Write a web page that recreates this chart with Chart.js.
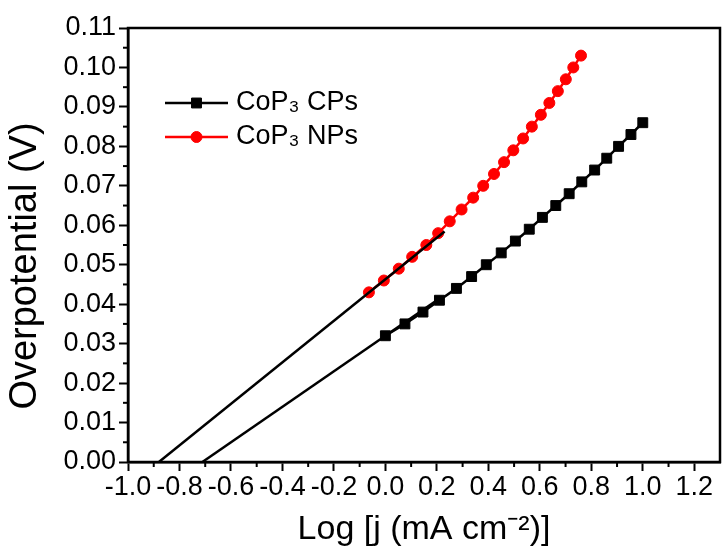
<!DOCTYPE html>
<html>
<head>
<meta charset="utf-8">
<script src="https://cdn.jsdelivr.net/npm/chart.js@4.4.1/dist/chart.umd.min.js"></script>
<style>
  html, body { margin: 0; padding: 0; background: #fff; }
</style>
</head>
<body>
<canvas id="chart" width="728" height="559"></canvas>
<script>
// CoP3 CPs (black squares)
var cpsX = [0.0, 0.076, 0.146, 0.21, 0.276, 0.335, 0.392, 0.45, 0.505, 0.559, 0.61, 0.662, 0.714, 0.763, 0.813, 0.86, 0.906, 0.954, 1.0];
var cpsY = [0.032, 0.035, 0.038, 0.041, 0.044, 0.047, 0.050, 0.053, 0.056, 0.059, 0.062, 0.065, 0.068, 0.071, 0.074, 0.077, 0.080, 0.083, 0.086];
// CoP3 NPs (red circles)
var npsX = [-0.064, -0.006, 0.052, 0.104, 0.159, 0.205, 0.25, 0.296, 0.341, 0.38, 0.422, 0.461, 0.497, 0.535, 0.569, 0.604, 0.637, 0.67, 0.701, 0.73, 0.76];
var npsY = [0.043, 0.046, 0.049, 0.052, 0.055, 0.058, 0.061, 0.064, 0.067, 0.070, 0.073, 0.076, 0.079, 0.082, 0.085, 0.088, 0.091, 0.094, 0.097, 0.100, 0.103];
// Tafel fit lines, extrapolated to zero overpotential
var cpsFitX = [-0.711, 0.2];
var cpsFitY = [0, 0.041];
var npsFitX = [-0.88, 0.23];
var npsFitY = [0, 0.0584];

var seriesNames = ['CoP\u2083 CPs', 'CoP\u2083 NPs'];
var xTitle = 'Log [j (mA cm\u207B\u00B2)]';
var yTitle = 'Overpotential (V)';
var xMin = -1.0, xMax = 1.3, xStep = 0.2;
var yMin = 0, yMax = 0.11, yStep = 0.01;

function pts(xs, ys) {
  return xs.map(function (x, i) { return { x: x, y: ys[i] }; });
}

var FONT = '"Liberation Sans", Arial, sans-serif';
Chart.defaults.font.family = FONT;
Chart.defaults.color = '#000';

// legend drawn inside the plot, top left
var insideLegend = {
  id: 'insideLegend',
  afterDatasetsDraw: function (chart) {
    var ctx = chart.ctx, a = chart.chartArea;
    ctx.save();
    [0, 1].forEach(function (di, k) {
      var ds = chart.data.datasets[di];
      var y = a.top + 75 + k * 34;
      var x0 = a.left + 37, x1 = a.left + 100;
      ctx.strokeStyle = ds.borderColor;
      ctx.fillStyle = ds.backgroundColor;
      ctx.lineWidth = ds.borderWidth;
      ctx.beginPath(); ctx.moveTo(x0, y); ctx.lineTo(x1, y); ctx.stroke();
      ctx.lineWidth = 1;
      Chart.helpers.drawPoint(ctx, { pointStyle: ds.pointStyle, radius: ds.pointRadius, rotation: 0, borderWidth: 1 }, (x0 + x1) / 2, y);
      ctx.fillStyle = '#000';
      ctx.font = '27px ' + FONT;
      ctx.textBaseline = 'middle';
      ctx.textAlign = 'left';
      ctx.fillText(ds.label, x1 + 8, y);
    });
    ctx.restore();
  }
};

// minor ticks, closed frame and the y title (sits a bit below centre in the original)
var frameAndMinor = {
  id: 'frameAndMinor',
  afterDraw: function (chart) {
    var ctx = chart.ctx, a = chart.chartArea, sx = chart.scales.x, sy = chart.scales.y;
    ctx.save();
    ctx.strokeStyle = '#000';
    ctx.lineWidth = 2;
    var v, p;
    for (v = xMin + xStep / 2; v < xMax - 1e-9; v += xStep) {
      p = sx.getPixelForValue(v);
      ctx.beginPath(); ctx.moveTo(p, a.bottom); ctx.lineTo(p, a.bottom + 5); ctx.stroke();
    }
    for (v = yMin + yStep / 2; v < yMax - 1e-9; v += yStep) {
      p = sy.getPixelForValue(v);
      ctx.beginPath(); ctx.moveTo(a.left, p); ctx.lineTo(a.left - 5, p); ctx.stroke();
    }
    ctx.lineWidth = 2.5;
    ctx.strokeRect(a.left, a.top, a.right - a.left, a.bottom - a.top);

    ctx.translate(26, (a.top + a.bottom) / 2 + 21);
    ctx.rotate(-Math.PI / 2);
    ctx.font = '38px ' + FONT;
    ctx.fillStyle = '#000';
    ctx.textAlign = 'center';
    ctx.textBaseline = 'middle';
    ctx.fillText(yTitle, 0, 0);
    ctx.restore();
  }
};

new Chart(document.getElementById('chart'), {
  type: 'scatter',
  data: {
    datasets: [
      { label: seriesNames[0], data: pts(cpsX, cpsY), showLine: true, borderColor: '#000', backgroundColor: '#000',
        borderWidth: 2.5, pointStyle: 'rect', pointRadius: 7, pointBorderWidth: 1, order: 2 },
      { label: seriesNames[1], data: pts(npsX, npsY), showLine: true, borderColor: '#ff0000', backgroundColor: '#ff0000',
        borderWidth: 2.5, pointStyle: 'circle', pointRadius: 5.5, pointBorderWidth: 1, order: 3 },
      { label: 'fit CPs', data: pts(cpsFitX, cpsFitY), showLine: true, borderColor: '#000', borderWidth: 2.5, pointRadius: 0, order: 1 },
      { label: 'fit NPs', data: pts(npsFitX, npsFitY), showLine: true, borderColor: '#000', borderWidth: 2.5, pointRadius: 0, order: 1 }
    ]
  },
  options: {
    responsive: false,
    animation: false,
    devicePixelRatio: 1,
    layout: { padding: { top: 28, right: 8, left: 0, bottom: 0 } },
    plugins: { legend: { display: false }, tooltip: { enabled: false } },
    scales: {
      x: {
        type: 'linear', min: xMin, max: xMax,
        afterFit: function (s) { s.height = 97; },
        border: { display: true, color: '#000', width: 2.5 },
        grid: { drawOnChartArea: false, drawTicks: true, tickLength: 9, tickColor: '#000', tickWidth: 2 },
        ticks: { stepSize: xStep, includeBounds: false, padding: 0, font: { size: 27 },
          callback: function (v) { return (Math.abs(v) < 1e-9 ? 0 : v).toFixed(1); } },
        title: { display: true, text: xTitle, font: { size: 34 }, padding: { top: 0, bottom: 9 } }
      },
      y: {
        type: 'linear', min: yMin, max: yMax,
        afterFit: function (s) { s.width = 128; },
        border: { display: true, color: '#000', width: 2.5 },
        grid: { drawOnChartArea: false, drawTicks: true, tickLength: 9, tickColor: '#000', tickWidth: 2 },
        ticks: { stepSize: yStep, padding: 3, font: { size: 27 },
          callback: function (v) { return v.toFixed(2); } },
        title: { display: false, text: yTitle }
      }
    }
  },
  plugins: [insideLegend, frameAndMinor]
});
</script>
</body>
</html>
